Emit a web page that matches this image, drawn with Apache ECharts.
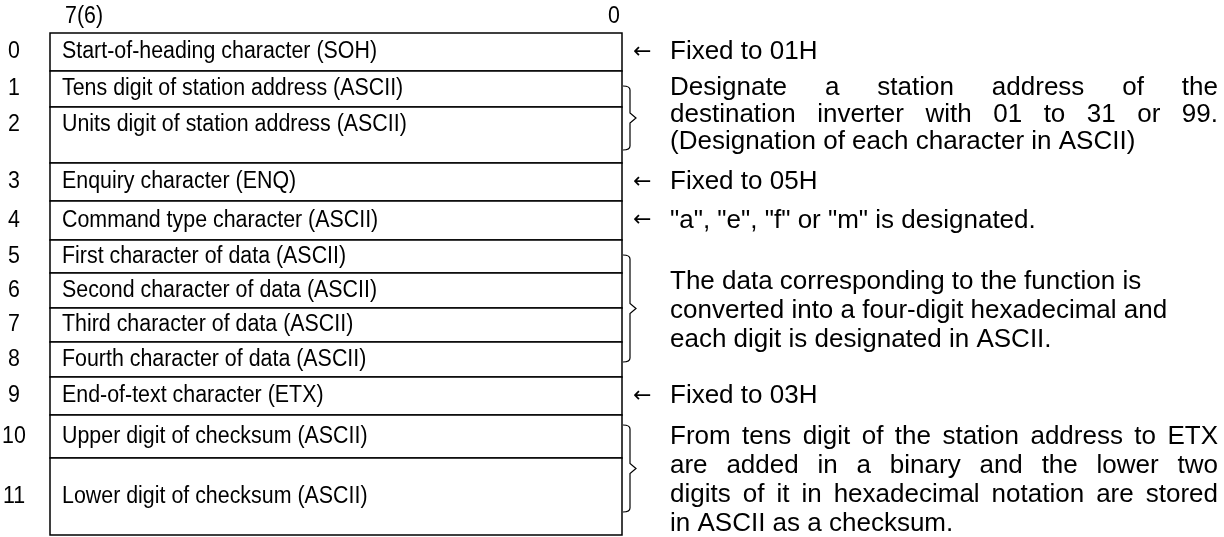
<!DOCTYPE html>
<html><head><meta charset="utf-8">
<script src="https://cdn.jsdelivr.net/npm/echarts@6/dist/echarts.min.js"></script>
<style>html,body{margin:0;padding:0;background:#fff}#c{width:1224px;height:537px}</style>
</head><body><div id="c"></div>
<script>
// ---- data ----
const rowNumbers = ['0','1','2','3','4','5','6','7','8','9','10','11'];
const rowTexts = [
  'Start-of-heading character (SOH)',
  'Tens digit of station address (ASCII)',
  'Units digit of station address (ASCII)',
  'Enquiry character (ENQ)',
  'Command type character (ASCII)',
  'First character of data (ASCII)',
  'Second character of data (ASCII)',
  'Third character of data (ASCII)',
  'Fourth character of data (ASCII)',
  'End-of-text character (ETX)',
  'Upper digit of checksum (ASCII)',
  'Lower digit of checksum (ASCII)'
];
const rowHeights = [38, 36, 56, 38, 39, 33, 35, 34, 35, 38, 43, 77];
const bitLabels = ['7(6)', '0'];
const arrowRows = [0, 3, 4, 9];
const arrowTexts = ['Fixed to 01H', 'Fixed to 05H', '"a", "e", "f" or "m" is designated.', 'Fixed to 03H'];
const braceFrom = [1, 5, 10];
const braceTo = [2, 8, 11];
const braceLines = [
  ['Designate a station address of the', 'destination inverter with 01 to 31 or 99.', '(Designation of each character in ASCII)'],
  ['The data corresponding to the function is', 'converted into a four-digit hexadecimal and', 'each digit is designated in ASCII.'],
  ['From tens digit of the station address to ETX', 'are added in a binary and the lower two', 'digits of it in hexadecimal notation are stored', 'in ASCII as a checksum.']
];
const braceJustify = [[1,1,0],[0,0,0],[1,1,1,0]];

// ---- layout ----
const BOX_TOP = 33, BOX_L = 50, BOX_R = 622;
const TXT_L = 670, TXT_R = 1218;
const FONT_BOX = '23px "Liberation Sans", Arial, sans-serif';
const BOX_SX = 0.93;
const FONT_NOTE = '26px "Liberation Sans", Arial, sans-serif';
const FONT_ARROW = '22px "DejaVu Sans", sans-serif';
const braceInsetTop = [15, 15, 10];
const braceInsetBot = [13, 15, 23];
const paraLineH = [27, 29, 29];
const paraShift = [-3, 2, 12];
const rowStart = []; let acc = BOX_TOP;
rowHeights.forEach(h => { rowStart.push(acc); acc += h; });
const rowEnd = rowStart.map((s, i) => s + rowHeights[i]);
const rowTextY = rowStart.map((s, i) => i === 2 ? s + 18 : s + rowHeights[i] / 2);

const mctx = document.createElement('canvas').getContext('2d');
function measure(t, font) { mctx.font = font; return mctx.measureText(t).width; }

const chart = echarts.init(document.getElementById('c'), null, {renderer: 'canvas'});

function boxText(x, y, text, align) {
  return { type: 'text', x: x, y: y, scaleX: BOX_SX,
    style: {text: text, font: FONT_BOX, fill: '#000', align: align, verticalAlign: 'middle'} };
}

function rowsRender(params, api) {
  const i = api.value(0);
  const p0 = api.coord([BOX_L, rowStart[i]]);
  const p1 = api.coord([BOX_R, rowEnd[i]]);
  const ty = api.coord([0, rowTextY[i]])[1];
  return { type: 'group', children: [
    { type: 'rect', shape: {x: p0[0], y: p0[1], width: p1[0]-p0[0], height: p1[1]-p0[1]},
      style: {fill: '#fff', stroke: '#000', lineWidth: 1.5} },
    boxText(api.coord([14, 0])[0], ty, rowNumbers[i], 'center'),
    boxText(p0[0] + 12, ty, rowTexts[i], 'left')
  ]};
}

function arrowRender(params, api) {
  const i = api.value(0);
  const r = arrowRows[i];
  const ty = api.coord([0, rowTextY[r]])[1];
  return { type: 'group', children: [
    { type: 'text', x: api.coord([633, 0])[0], y: ty,
      style: {text: '←', font: FONT_ARROW, fill: '#000', align: 'left', verticalAlign: 'middle'} },
    { type: 'text', x: api.coord([TXT_L, 0])[0], y: ty,
      style: {text: arrowTexts[i], font: FONT_NOTE, fill: '#000', align: 'left', verticalAlign: 'middle'} }
  ]};
}

function braceRender(params, api) {
  const i = api.value(0);
  const top = rowStart[braceFrom[i]] + braceInsetTop[i];
  const bot = rowEnd[braceTo[i]] - braceInsetBot[i];
  const mid = (top + bot) / 2;
  const xa = api.coord([BOX_R + 1, 0])[0], xb = api.coord([BOX_R + 8, 0])[0], xc = api.coord([BOX_R + 14, 0])[0];
  const yt = api.coord([0, top])[1], yb = api.coord([0, bot])[1], ym = api.coord([0, mid])[1];
  const path = `M${xa},${yt} Q${xb},${yt} ${xb},${yt+4} L${xb},${ym-5} L${xc},${ym} L${xb},${ym+5} L${xb},${yb-4} Q${xb},${yb} ${xa},${yb}`;
  const children = [{ type: 'path', shape: {pathData: path}, style: {fill: 'none', stroke: '#000', lineWidth: 1.2} }];
  const lines = braceLines[i];
  const lh = paraLineH[i];
  const y0 = mid + paraShift[i] - (lines.length - 1) * lh / 2;
  const xl = api.coord([TXT_L, 0])[0], xr = api.coord([TXT_R, 0])[0];
  lines.forEach((ln, k) => {
    const y = api.coord([0, y0 + k * lh])[1];
    if (braceJustify[i][k]) {
      const words = ln.split(' ');
      const ws = words.map(w => measure(w, FONT_NOTE));
      const tot = ws.reduce((a, b) => a + b, 0);
      const gap = (xr - xl - tot) / (words.length - 1);
      let x = xl;
      words.forEach((w, j) => {
        children.push({ type: 'text', x: x, y: y, style: {text: w, font: FONT_NOTE, fill: '#000', align: 'left', verticalAlign: 'middle'} });
        x += ws[j] + gap;
      });
    } else {
      children.push({ type: 'text', x: xl, y: y, style: {text: ln, font: FONT_NOTE, fill: '#000', align: 'left', verticalAlign: 'middle'} });
    }
  });
  return { type: 'group', children };
}

function headRender(params, api) {
  const i = api.value(0);
  const x = i === 0 ? 65 : 614;
  const p = api.coord([x, 17]);
  return boxText(p[0], p[1], bitLabels[i], i === 0 ? 'left' : 'center');
}

chart.setOption({
  animation: false,
  grid: {left: 0, right: 0, top: 0, bottom: 0},
  xAxis: {type: 'value', min: 0, max: 1224, show: false},
  yAxis: {type: 'value', min: 0, max: 537, inverse: true, show: false},
  series: [
    {type: 'custom', renderItem: rowsRender, data: rowTexts.map((t, i) => [i]), clip: false},
    {type: 'custom', renderItem: headRender, data: bitLabels.map((t, i) => [i]), clip: false},
    {type: 'custom', renderItem: arrowRender, data: arrowTexts.map((t, i) => [i]), clip: false},
    {type: 'custom', renderItem: braceRender, data: braceLines.map((t, i) => [i]), clip: false}
  ]
});
</script></body></html>
